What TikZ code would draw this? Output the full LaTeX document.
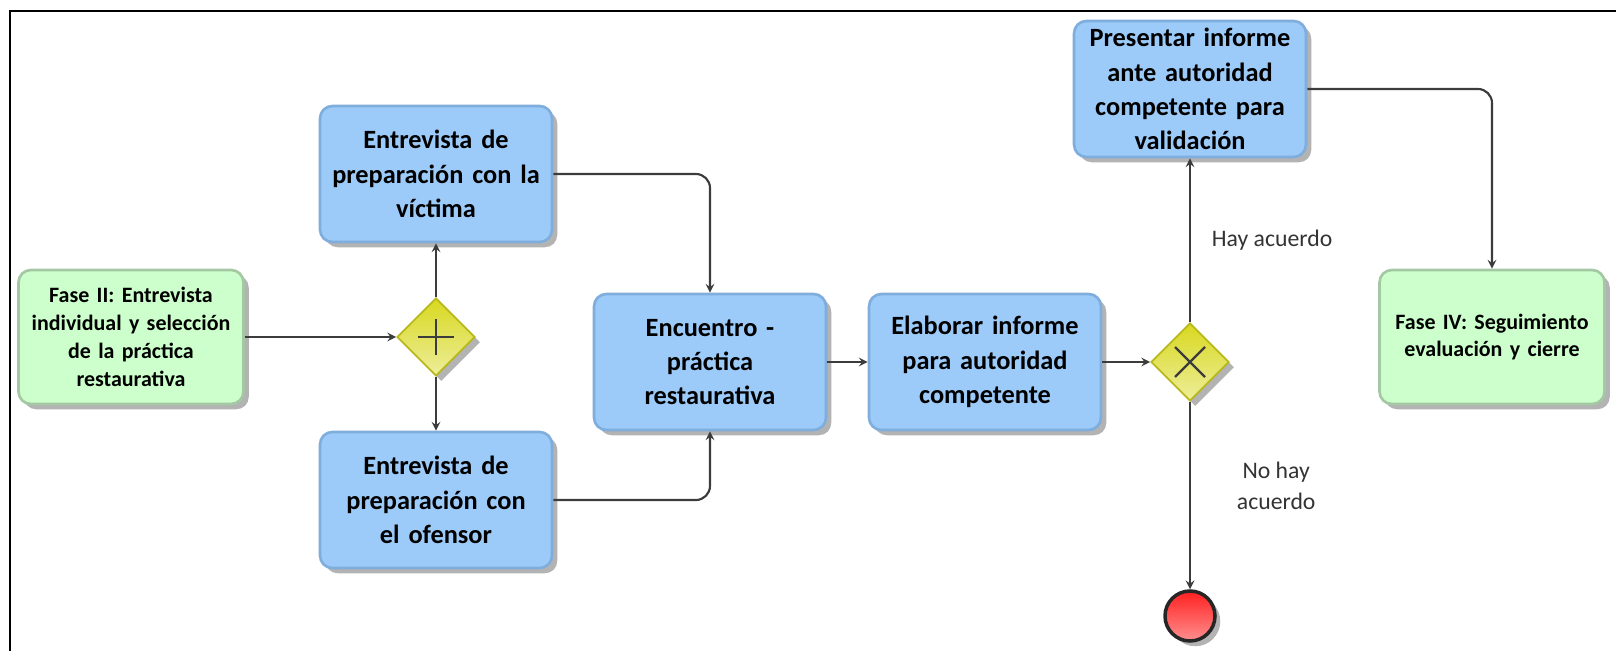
\documentclass[tikz,border=0pt]{standalone}
\usepackage{fontspec}
\setmainfont{Carlito}
\usetikzlibrary{shapes.geometric,shadows}
\definecolor{cblue}{HTML}{9CCBFA}
\definecolor{cblueedge}{HTML}{7FAEDD}
\definecolor{cgreen}{HTML}{CCFFCC}
\definecolor{cgreenedge}{HTML}{A3C8A3}
\definecolor{cyellow}{HTML}{D8D820}
\definecolor{cred}{HTML}{FF2020}
\definecolor{cline}{HTML}{3C3C3C}

\begin{document}
\begin{tikzpicture}[x=0.02cm,y=-0.02cm,
  task/.style={draw=cblueedge,line width=1.5pt,rounded corners=7pt,fill=cblue,
    minimum width=4.64cm,minimum height=2.72cm,text width=4.4cm,align=center,
    inner sep=1pt,font=\fontsize{15}{19.5}\selectfont\bfseries,
    drop shadow={shadow xshift=3pt,shadow yshift=-3pt,fill=black!50,opacity=.6}},
  phase/.style={task,draw=cgreenedge,fill=cgreen,minimum width=4.5cm,
    minimum height=2.68cm,text width=4.3cm,font=\fontsize{12.5}{15.8}\selectfont\bfseries},
  gate/.style={diamond,draw=cyellow!85!black,line width=1pt,top color=cyellow,
    bottom color=cyellow!45!white,minimum size=1.56cm,inner sep=0pt,
    drop shadow={shadow xshift=3pt,shadow yshift=-3pt,fill=black!50,opacity=.6}},
  gatemark/.style={line width=1.3pt,cline},
  flow/.style={->,>=stealth,line width=1.2pt,cline,rounded corners=8pt},
  lbl/.style={font=\fontsize{13.5}{17.5}\selectfont,text=black!80,align=center}]
  \useasboundingbox (0,0) rectangle (1616,651);
  % frame
  \draw[line width=1.5pt] (1616,11) -- (10,11) -- (10,651);

  % phase II and parallel interviews
  \node[phase] (fase2) at (131,337)
    {Fase II: Entrevista\\individual y selección\\de la práctica\\restaurativa};
  \node[gate] (plus) at (436,337) {};
  \draw[gatemark] (plus.center) +(-18,0) -- +(18,0) +(0,-18) -- +(0,18);
  \node[task] (victima) at (436,174)
    {Entrevista de\\preparación con la\\víctima};
  \node[task] (ofensor) at (436,500)
    {Entrevista de\\preparación con\\el ofensor};

  % meeting and report
  \node[task] (encuentro) at (710,362)
    {Encuentro -\\práctica\\restaurativa};
  \node[task] (elaborar) at (985,362)
    {Elaborar informe\\para autoridad\\competente};
  \node[gate] (xor) at (1190,362) {};
  \draw[gatemark] (xor.center) +(-15,-15) -- +(15,15) +(-15,15) -- +(15,-15);
  \node[task] (presentar) at (1190,89)
    {Presentar informe\\ante autoridad\\competente para\\validación};
  \node[phase] (fase4) at (1492,337)
    {Fase IV: Seguimiento\\evaluación y cierre};
  \node[circle,draw=black!85,line width=2pt,top color=cred,bottom color=cred!50!white,
    minimum size=1.0cm,drop shadow={shadow xshift=3pt,shadow yshift=-3pt,fill=black!50,opacity=.6}]
    (fin) at (1190,616) {};

  % connectors
  \draw[flow] (fase2.east) -- (plus.west);
  \draw[flow] (plus) -- (victima);
  \draw[flow] (plus) -- (ofensor);
  \draw[flow] (victima.east) -| (encuentro.north);
  \draw[flow] (ofensor.east) -| (encuentro.south);
  \draw[flow] (encuentro) -- (elaborar);
  \draw[flow] (elaborar) -- (xor);
  \draw[flow] (xor) -- (presentar)
    node[lbl,pos=0.5,right=0.3cm] {Hay acuerdo};
  \draw[flow] (xor) -- (fin)
    node[lbl,pos=0.45,right=0.8cm] {No hay\\acuerdo};
  \draw[flow] (presentar.east) -| (fase4.north);
\end{tikzpicture}
\end{document}
